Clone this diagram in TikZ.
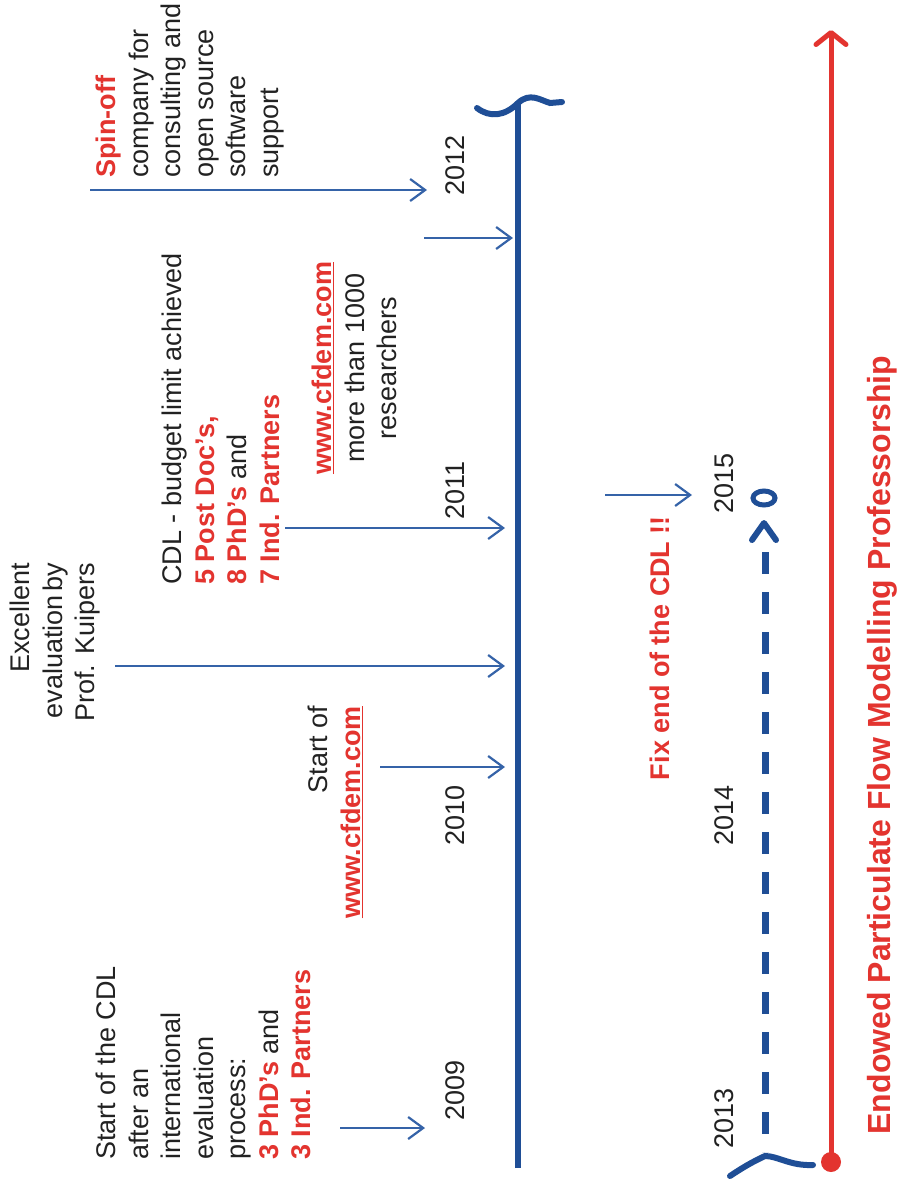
\documentclass[tikz,border=0pt]{standalone}
\usepackage{fontspec}
\setmainfont{Liberation Sans}
\usetikzlibrary{arrows.meta}
\definecolor{tblue}{HTML}{1F4E96}
\definecolor{ablue}{HTML}{3563A8}
\definecolor{tred}{HTML}{E3342F}
\definecolor{txt}{HTML}{222222}
\newcommand{\rb}[1]{\textcolor{tred}{\bfseries #1}}
\begin{document}
\begin{tikzpicture}[x=1pt,y=-1pt,
  lbl/.style={rotate=90, inner sep=0pt, font=\fontsize{27}{32.5}\selectfont, text=txt},
  yr/.style={rotate=90, inner sep=0pt, font=\fontsize{27}{32}\selectfont, text=txt},
  conn/.style={ablue, line width=2.2pt, -{Straight Barb[length=15pt,width=22pt]}},
  mainline/.style={tblue, line width=6pt, line cap=round}]
\useasboundingbox (0,0) rectangle (906,1187);
\fill[white] (0,0) rectangle (906,1187);

% main timeline
\coordinate (mbot) at (518,1168);
\coordinate (mtop) at (518,104);
\draw[tblue, line width=6pt] (mbot) -- (mtop);
\draw[mainline] (477,108) .. controls (490,118) and (505,116) .. (518,103)
   .. controls (530,92) and (540,100) .. (550,103) -- (562,102);

% lower dashed timeline
\coordinate (dtop) at (765,552);
\coordinate (dbot) at (765,1152);
\draw[tblue, line width=7pt, dash pattern=on 22pt off 18pt] (dtop) -- (dbot);
\draw[mainline] (730,1176) .. controls (742,1168) and (752,1162) .. (765,1156)
   .. controls (778,1156) and (790,1166) .. (813,1165);
\draw[tblue, line width=6pt, line cap=round, line join=round] (752,540) -- (764,523) -- (776,540);
\draw[tblue, line width=5pt] (764,498) ellipse [x radius=11, y radius=7];

% red professorship line
\coordinate (rbot) at (831,1162);
\coordinate (rtop) at (831,30);
\draw[tred, line width=5pt, -{Straight Barb[length=12pt,width=30pt,round]}] (rbot) -- (rtop);
\fill[tred] (rbot) circle (10);

% years
\node[yr] (y09) at (455,1090) {2009};
\node[yr] (y10) at (455,815) {2010};
\node[yr] (y11) at (455,490) {2011};
\node[yr] (y12) at (455,165) {2012};
\node[yr] (y13) at (724,1118) {2013};
\node[yr] (y14) at (724,815) {2014};
\node[yr] (y15) at (724,483) {2015};

% text blocks
\node[lbl, anchor=north west, align=left] (t09) at (96,1160)
  {Start of the CDL\\after an\\international\\evaluation\\process:\\\rb{3 PhD’s} and\\\rb{3 Ind. Partners}};
\node[lbl, anchor=north east, align=right] (t10) at (308,706)
  {Start of\\\rb{\underline{www.cfdem.com}}};
\node[lbl, anchor=north east, align=right] (texc) at (10,563)
  {Excellent\\evaluation\hspace{0.12em}by\\Prof. Kuipers};
\node[lbl, anchor=north west, align=left] (tcdl) at (162,585)
  {CDL - budget limit achieved\\\rb{5 Post Doc’s,}\\\rb{8 PhD’s} and\\\rb{7 Ind. Partners}};
\node[lbl, anchor=north, align=center] (tweb) at (312,368)
  {\rb{\underline{www.cfdem.com}}\\more than 1000\\researchers};
\node[lbl, anchor=north west, align=left] (tspin) at (96,178)
  {\rb{Spin-off}\\company for\\consulting and\\open source\\software\\support};
\node[lbl, font=\fontsize{27}{32}\selectfont\bfseries, text=tred] (tfix) at (660,648) {Fix end of the CDL !!};
\node[lbl, font=\fontsize{32}{36}\selectfont\bfseries, text=tred] (tend) at (882,745) {Endowed Particulate Flow Modelling Professorship};

% connectors
\coordinate (s09) at (340,1128); \coordinate (e09) at (425,1128);
\coordinate (s10) at (380,767);  \coordinate (e10) at (505,767);
\coordinate (sexc) at (115,666); \coordinate (eexc) at (505,666);
\coordinate (scdl) at (285,528); \coordinate (ecdl) at (505,528);
\coordinate (sweb) at (424,238); \coordinate (eweb) at (513,238);
\coordinate (sspin) at (90,190); \coordinate (espin) at (427,190);
\coordinate (sfix) at (605,495); \coordinate (efix) at (692,495);
\draw[conn] (s09) -- (e09);
\draw[conn] (s10) -- (e10);
\draw[conn] (sexc) -- (eexc);
\draw[conn] (scdl) -- (ecdl);
\draw[conn] (sweb) -- (eweb);
\draw[conn] (sspin) -- (espin);
\draw[conn] (sfix) -- (efix);
\end{tikzpicture}
\end{document}
